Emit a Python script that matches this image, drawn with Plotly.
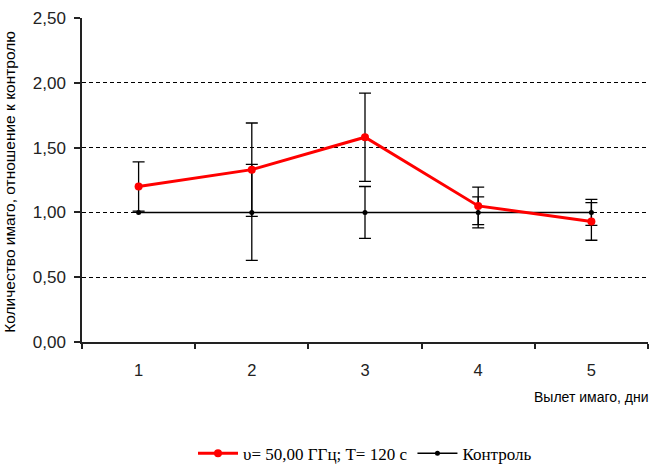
import plotly.graph_objects as go

days = [1, 2, 3, 4, 5]
day_labels = ["1", "2", "3", "4", "5"]
exp_values = [1.20, 1.33, 1.58, 1.05, 0.93]
exp_errors = [0.19, 0.36, 0.34, 0.145, 0.145]
ctrl_values = [1.0, 1.0, 1.0, 1.0, 1.0]
ctrl_errors = [0.0, 0.37, 0.20, 0.12, 0.10]
y_ticks = [0, 0.5, 1.0, 1.5, 2.0, 2.5]
y_tick_labels = ["0,00", "0,50", "1,00", "1,50", "2,00", "2,50"]

fig = go.Figure()
fig.add_trace(go.Scatter(
    x=days, y=ctrl_values, name="Контроль", mode="lines+markers",
    line=dict(color="black", width=1.5),
    marker=dict(color="black", size=5),
    error_y=dict(type="data", array=ctrl_errors, color="black", thickness=1.3, width=6),
))
fig.add_trace(go.Scatter(
    x=days, y=exp_values, name="υ= 50,00 ГГц; T= 120 с", mode="lines+markers",
    line=dict(color="#ff0000", width=3),
    marker=dict(color="#ff0000", size=8),
    error_y=dict(type="data", array=exp_errors, color="black", thickness=1.3, width=6),
))

fig.update_layout(
    width=653, height=467,
    margin=dict(l=82, r=5, t=18, b=125, autoexpand=False),
    plot_bgcolor="white", paper_bgcolor="white",
    font=dict(family="Liberation Sans, Arial", size=12, color="#222"),
    legend=dict(
        orientation="h", x=0.5, xanchor="center", y=-0.345, yanchor="middle",
        font=dict(family="Liberation Serif, Times New Roman", size=17, color="black"),
        traceorder="reversed", itemwidth=40,
    ),
    xaxis=dict(
        range=[0.5, 5.5], tickvals=days, ticktext=day_labels, ticks="",
        showline=True, linecolor="#222", linewidth=1.5, showgrid=False, zeroline=False,
        ticklabelstandoff=12, tickfont=dict(size=16.5), automargin=False,
        minor=dict(tickvals=[0.5, 1.5, 2.5, 3.5, 4.5, 5.5], ticks="outside", ticklen=5,
                   tickcolor="#222", tickwidth=1.5, showgrid=False),
    ),
    yaxis=dict(
        range=[0, 2.5], tickvals=y_ticks, ticktext=y_tick_labels, ticks="outside",
        ticklen=6, tickcolor="#222", tickwidth=1.5, automargin=False,
        showline=True, linecolor="#222", linewidth=1.5, zeroline=False,
        showgrid=True, gridcolor="black", gridwidth=1, griddash="4px,3px",
        tickfont=dict(size=17), ticklabelstandoff=5,
    ),
    annotations=[
        dict(text="Количество имаго, отношение к контролю", xref="paper", yref="paper",
             x=-0.127, y=0.495, xanchor="center", yanchor="middle", textangle=-90,
             showarrow=False, font=dict(size=15.5, color="black")),
        dict(text="Вылет имаго, дни", xref="paper", yref="paper",
             x=1.005, y=-0.17, xanchor="right", yanchor="middle",
             showarrow=False, font=dict(size=14, color="black")),
    ],
)

fig.write_html("out.html", config={"displayModeBar": False},
               post_script="document.body.style.margin='0';document.body.style.overflow='hidden';")
